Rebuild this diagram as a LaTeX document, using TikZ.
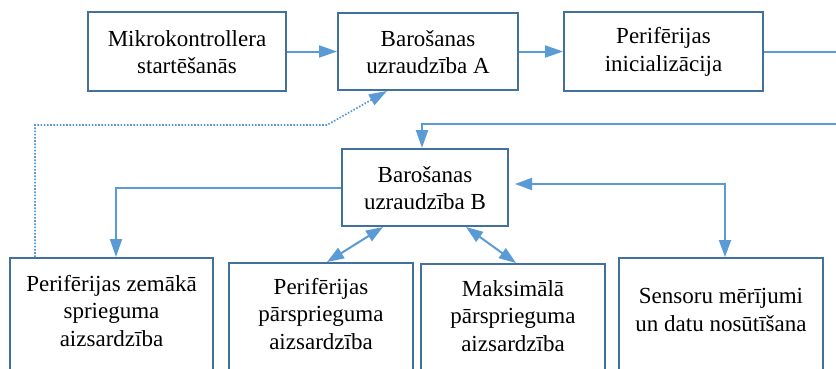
\documentclass[tikz,border=0pt]{standalone}
\usepackage{fontspec}
\setmainfont{Liberation Serif}
\usetikzlibrary{arrows.meta}
\definecolor{boxc}{HTML}{41719C}
\definecolor{arrc}{HTML}{5B9BD5}
\begin{document}
\begin{tikzpicture}[x=1pt,y=-1pt,
 box/.style={draw=boxc, line width=2pt, inner sep=0pt, fill=white},
 txt/.style={align=center, font=\fontsize{23}{27.5}\selectfont, inner sep=0pt},
 conn/.style={draw=arrc, line width=2pt, -{Triangle[length=18pt,width=12pt]}},
 plain/.style={draw=arrc, line width=2pt},
 dconn/.style={draw=arrc, line width=2pt, {Triangle[length=17pt,width=12pt]}-{Triangle[length=17pt,width=12pt]}},
 dotconn/.style={draw=arrc, line width=1.7pt, dash pattern=on 1.6pt off 1.6pt, -{Triangle[length=18pt,width=12pt]}},
]
\useasboundingbox (0,0) rectangle (836,368);
\clip (0,0) rectangle (836,368);
\fill[white] (0,0) rectangle (836,368);

% boxes
\node[box, minimum width=198pt, minimum height=79pt] (a1) at (187,51.5) {};
\node[box, minimum width=180pt, minimum height=77pt] (a2) at (428,51.5) {};
\node[box, minimum width=199pt, minimum height=79pt] (a3) at (663.5,51.5) {};
\node[box, minimum width=166pt, minimum height=77pt] (b) at (425,187.5) {};
\node[box, minimum width=203pt, minimum height=122pt] (c1) at (111.5,319) {};
\node[box, minimum width=184pt, minimum height=122pt] (c2) at (321,324) {};
\node[box, minimum width=184pt, minimum height=122pt] (c3) at (513,325) {};
\node[box, minimum width=204pt, minimum height=122pt] (c4) at (721,319) {};

% texts
\node[txt] (t1) at (187,52) {Mikrokontrollera\\startēšanās};
\node[txt] (t2) at (428,52) {Barošanas\\uzraudzība A};
\node[txt] (t3) at (663.5,52) {Perifērijas\\inicializācija};
\node[txt] (tb) at (425,188) {Barošanas\\uzraudzība B};
\node[txt] (tc1) at (111.5,311) {Perifērijas zemākā\\sprieguma\\aizsardzība};
\node[txt] (tc2) at (321,314) {Perifērijas\\pārsprieguma\\aizsardzība};
\node[txt] (tc3) at (513,316) {Maksimālā\\pārsprieguma\\aizsardzība};
\node[txt] (tc4) at (721,310) {Sensoru mērījumi\\un datu nosūtīšana};

% free ends
\coordinate (r1) at (845,51.5);
\coordinate (r2) at (845,124);
\coordinate (d1) at (35,125);
\coordinate (d2) at (327,125);

% connectors
\draw[conn] (a1.east) -- (a2.west);
\draw[conn] (a2.east) -- (a3.west);
\draw[plain] (a3.east) -- (r1);
\draw[conn] (r2) -| ([xshift=-3pt]b.north);
\draw[conn] (b.west) -| ([xshift=4.5pt]c1.north);
\draw[dotconn] ([xshift=-76.5pt]c1.north) -- (d1) -- (d2) -- ([xshift=-41pt]a2.south);
\draw[dconn] ([xshift=6pt]c2.north) -- ([xshift=-42pt]b.south);
\draw[dconn] ([xshift=41pt]b.south) -- ([xshift=3pt]c3.north);
\draw[dconn] ([xshift=6pt,yshift=3.5pt]b.east) -| ([xshift=4pt]c4.north);
\end{tikzpicture}
\end{document}
